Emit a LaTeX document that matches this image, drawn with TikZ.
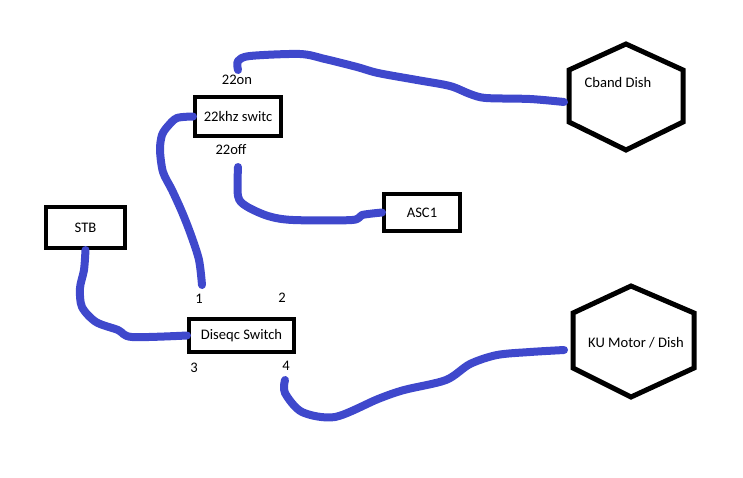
\documentclass[tikz,border=0pt]{standalone}
\usepackage{fontspec}
\setmainfont{Carlito}
\usepackage{tikz}
\usetikzlibrary{positioning}

\definecolor{cable}{RGB}{63,72,204}

\begin{document}
\begin{tikzpicture}[
  x=0.02cm, y=-0.02cm,
  font=\fontsize{8.3}{10}\selectfont,
  box/.style={draw, line width=0.08cm, inner sep=0pt},
  dish/.style={draw, line width=0.1cm, line join=miter},
  wire/.style={cable, line width=0.16cm, line cap=round, line join=round}
]
\useasboundingbox (0,0) rectangle (743,477);

%--------------------
% 機器
%--------------------
\node[box, minimum width=1.72cm, minimum height=0.78cm] (khz) at (238,116.5) {22khz switc};
\node[box, minimum width=1.52cm, minimum height=0.74cm] (asc) at (422,212.5) {ASC1};
\node[box, minimum width=1.58cm, minimum height=0.82cm] (stb) at (85.5,227.5) {STB};
\node[box, minimum width=2.10cm, minimum height=0.66cm] (diseqc) at (241.5,335.5) {Diseqc Switch};

% 端子の番号
\node (on) at (237,80) {22on};
\node (off) at (231,150) {22off};
\node (p1) at (199,299) {1};
\node (p2) at (282,298) {2};
\node (p3) at (194,368) {3};
\node (p4) at (286,366) {4};

%--------------------
% アンテナ
%--------------------
\draw[dish] (569,70) -- (626,44) -- (683,70) -- (683,122) -- (626,150) -- (569,122) -- cycle;
\node (cband) at (618,82) {Cband Dish};

\draw[dish] (573,313) -- (631,286) -- (694,313) -- (694,368) -- (631,397) -- (573,368) -- cycle;
\node (ku) at (636,343) {KU Motor / Dish};

% ケーブルの端
\coordinate (onout) at (238,70);
\coordinate (offout) at (238,167);
\coordinate (in1) at (202,285);
\coordinate (out4) at (285,380);
\coordinate (cbandin) at (564,102);
\coordinate (kuin) at (564,350);

%--------------------
% ケーブル
%--------------------
\draw[wire] plot[smooth, tension=0.5] coordinates {
  (onout) (238,61) (250,56) (300,54) (325,59) (357,67) (378,73)
  (417,80) (450,86) (470,94) (486,98) (530,99) (cbandin)};

\draw[wire] plot[smooth, tension=0.5] coordinates {
  (khz.west) (177,118) (168,126) (162,135) (160,150) (163,172)
  (172,190) (182,212) (191,235) (199,260) (in1)};

\draw[wire] plot[smooth, tension=0.5] coordinates {
  (offout) (238,196) (246,206) (268,216) (293,220) (352,220)
  (362,215) (asc.west)};

\draw[wire] plot[smooth, tension=0.5] coordinates {
  (stb.south) (84,270) (80,288) (82,307) (96,322) (118,330)
  (132,337) (diseqc.west)};

\draw[wire] plot[smooth, tension=0.5] coordinates {
  (out4) (285,393) (302,412) (335,417) (378,399) (404,390)
  (446,380) (470,364) (497,355) (530,352) (kuin)};

\end{tikzpicture}
\end{document}
